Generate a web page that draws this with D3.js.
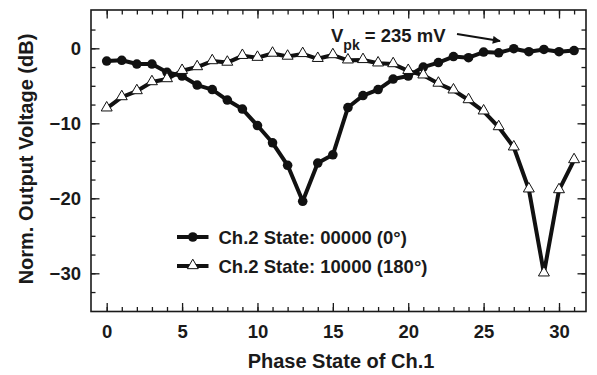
<!DOCTYPE html>
<html>
<head>
<meta charset="utf-8">
<script src="https://cdn.jsdelivr.net/npm/d3@7"></script>
<style>
  body { margin: 0; background: #fff; }
  svg { font-family: "Liberation Sans", Arial, Helvetica, sans-serif; font-weight: bold; }
  .axis path { display: none; }
  .axis line { stroke: #1a1a1a; stroke-width: 1.3px; }
  .axis text { font-size: 18.5px; fill: #1a1a1a; font-weight: bold; }
</style>
</head>
<body>
<svg id="chart" width="597" height="375"></svg>
<script>
// phase state of Ch.1
const phaseStates = d3.range(0, 32);
// Ch.2 state 00000 (0 deg), normalised output in dB
const state0 = [-1.7, -1.6, -2.1, -2.1, -3.2, -3.7, -4.9, -5.5, -6.9, -8.1,
  -10.3, -12.6, -15.6, -20.4, -15.3, -14.2, -7.9, -6.3, -5.5, -4.1,
  -3.7, -2.5, -1.9, -1.1, -1.25, -0.5, -0.6, -0.05, -0.45, -0.15, -0.45, -0.3];
// Ch.2 state 10000 (180 deg)
const state180 = [-8.0, -6.5, -5.7, -4.5, -4.1, -3.0, -2.5, -1.7, -1.9, -1.0,
  -1.25, -0.7, -1.1, -0.75, -1.4, -0.9, -1.6, -1.55, -2.0, -2.1,
  -3.0, -3.6, -4.7, -5.6, -6.9, -8.4, -10.5, -13.2, -18.8, -30.0, -18.9, -14.9];
const xTicks = [0, 5, 10, 15, 20, 25, 30];
const yTicks = [0, -10, -20, -30];
const legendLabels = ['Ch.2 State: 00000 (0°)', 'Ch.2 State: 10000 (180°)'];

const svg = d3.select('#chart');
const plotL = 91, plotR = 586, plotT = 10, plotB = 311.5;

const x = d3.scaleLinear().domain([0, 30]).range([106.7, 559]);
const y = d3.scaleLinear().domain([0, -30]).range([48.3, 273.3]);

const xMinor = d3.range(0, 32);
const yMinor = d3.range(-32.5, 5, 2.5);

// frame
svg.append('rect')
  .attr('x', plotL).attr('y', plotT)
  .attr('width', plotR - plotL).attr('height', plotB - plotT)
  .attr('fill', 'none').attr('stroke', '#1a1a1a').attr('stroke-width', 1.6);

function addAxis(axis, tx, ty) {
  return svg.append('g').attr('class', 'axis')
    .attr('transform', 'translate(' + tx + ',' + ty + ')')
    .call(axis);
}

// minor ticks
addAxis(d3.axisBottom(x).tickValues(xMinor).tickSize(-4.5).tickFormat(''), 0, plotB);
addAxis(d3.axisTop(x).tickValues(xMinor).tickSize(-4.5).tickFormat(''), 0, plotT);
addAxis(d3.axisLeft(y).tickValues(yMinor).tickSize(-4.5).tickFormat(''), plotL, 0);
addAxis(d3.axisRight(y).tickValues(yMinor).tickSize(-4.5).tickFormat(''), plotR, 0);

// major ticks + labels
addAxis(d3.axisBottom(x).tickValues(xTicks).tickSize(-8.5).tickPadding(13), 0, plotB);
addAxis(d3.axisTop(x).tickValues(xTicks).tickSize(-8.5).tickFormat(''), 0, plotT);
addAxis(d3.axisLeft(y).tickValues(yTicks).tickSize(-8.5).tickPadding(10), plotL, 0);
addAxis(d3.axisRight(y).tickValues(yTicks).tickSize(-8.5).tickFormat(''), plotR, 0);

// axis titles
svg.append('text')
  .attr('x', 341).attr('y', 368)
  .attr('text-anchor', 'middle')
  .style('font-size', '20px').attr('fill', '#1a1a1a')
  .text('Phase State of Ch.1');

svg.append('text')
  .attr('transform', 'translate(33,159) rotate(-90)')
  .attr('text-anchor', 'middle')
  .style('font-size', '20px').attr('fill', '#1a1a1a')
  .text('Norm. Output Voltage (dB)');

const line = d3.line()
  .x((d, i) => x(phaseStates[i]))
  .y(d => y(d));

const triangle = d3.symbol().type(d3.symbolTriangle).size(52);

// series 0 deg
svg.append('path')
  .datum(state0)
  .attr('d', line)
  .attr('fill', 'none').attr('stroke', '#111')
  .attr('stroke-width', 4).attr('stroke-linejoin', 'round');
svg.append('g').selectAll('circle')
  .data(state0)
  .enter().append('circle')
  .attr('cx', (d, i) => x(phaseStates[i]))
  .attr('cy', d => y(d))
  .attr('r', 4.8)
  .attr('fill', '#111');

// series 180 deg
svg.append('path')
  .datum(state180)
  .attr('d', line)
  .attr('fill', 'none').attr('stroke', '#111')
  .attr('stroke-width', 4).attr('stroke-linejoin', 'round');
svg.append('g').selectAll('path')
  .data(state180)
  .enter().append('path')
  .attr('d', triangle)
  .attr('transform', (d, i) => 'translate(' + x(phaseStates[i]) + ',' + (y(d) - 0.5) + ')')
  .attr('fill', '#fff').attr('stroke', '#111').attr('stroke-width', 1);

// legend
const legend = svg.append('g').attr('transform', 'translate(177,237)');
legendLabels.forEach((label, i) => {
  const row = legend.append('g').attr('transform', 'translate(0,' + i * 29 + ')');
  row.append('line')
    .attr('x1', 0).attr('x2', 31.5)
    .attr('stroke', '#111').attr('stroke-width', 4);
  if (i === 0) {
    row.append('circle').attr('cx', 15.8).attr('r', 4.8).attr('fill', '#111');
  } else {
    row.append('path').attr('d', triangle)
      .attr('transform', 'translate(15.8,-0.5)')
      .attr('fill', '#fff').attr('stroke', '#111').attr('stroke-width', 1);
  }
  row.append('text')
    .attr('x', 41.5).attr('dy', '0.36em')
    .style('font-size', '18.5px').attr('fill', '#1a1a1a')
    .text(label);
});

// peak voltage annotation
const note = svg.append('text')
  .attr('x', 331).attr('y', 42)
  .style('font-size', '18.5px').attr('fill', '#1a1a1a');
note.append('tspan').text('V');
note.append('tspan').attr('dy', 8).style('font-size', '14px').text('pk');
note.append('tspan').attr('dy', -8).text(' = 235 mV');

svg.append('defs').append('marker')
  .attr('id', 'arrow')
  .attr('viewBox', '0 0 10 10')
  .attr('refX', 9).attr('refY', 5)
  .attr('markerWidth', 5).attr('markerHeight', 4)
  .attr('orient', 'auto')
  .append('path').attr('d', 'M0,0L10,5L0,10z').attr('fill', '#111');

svg.append('line')
  .attr('x1', 457).attr('y1', 34)
  .attr('x2', 500).attr('y2', 41)
  .attr('stroke', '#111').attr('stroke-width', 2)
  .attr('marker-end', 'url(#arrow)');
</script>
</body>
</html>
